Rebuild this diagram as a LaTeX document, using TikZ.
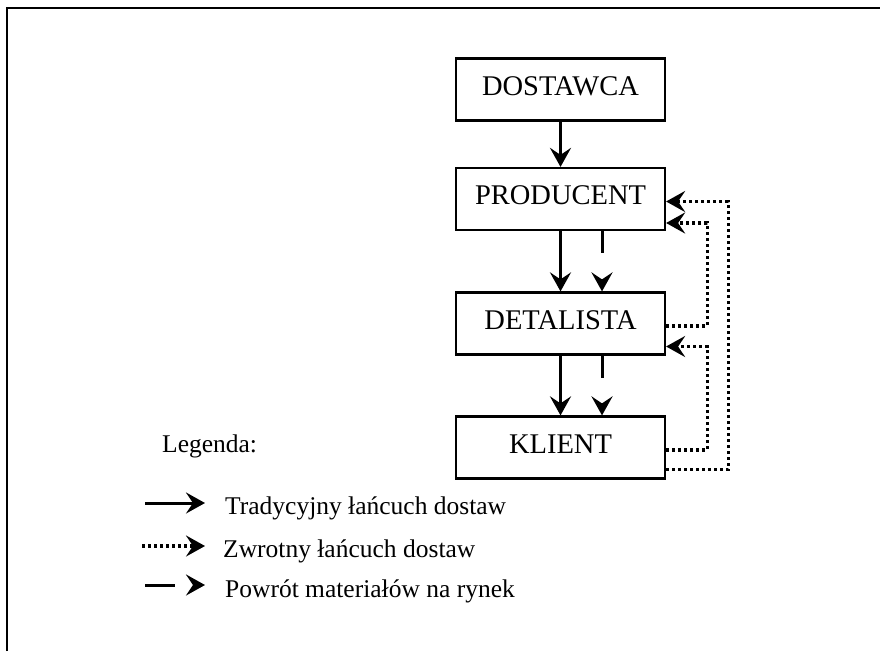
\documentclass[tikz,border=0pt]{standalone}
\usepackage{fontspec}
\setmainfont{Liberation Serif}
\usetikzlibrary{arrows.meta}
\begin{document}
\begin{tikzpicture}[x=1pt,y=-1pt,
  box/.style={draw,line width=2.2pt,minimum width=209pt,minimum height=62pt,inner sep=0pt,
    text height=19pt,text depth=8pt,font=\fontsize{28.5}{31}\selectfont},
  tip/.style={-{Stealth[length=19pt,width=21pt,inset=7pt]}},
  solidarrow/.style={tip,line width=3pt},
  dotarrow/.style={tip,line width=3.2pt,dash pattern=on 3pt off 3pt},
  retarrow/.style={tip,line width=3pt,dash pattern=on 22pt off 60pt},
  legtext/.style={anchor=base west,inner sep=0pt,font=\fontsize{25.5}{28}\selectfont}]
\useasboundingbox (0,0) rectangle (880,651);
\fill[white] (0,0) rectangle (880,651);
% frame
\draw[line width=1.5pt] (7,651) -- (7,8) -- (880,8);
% boxes
\node[box] (dost) at (560.5,89.5) {DOSTAWCA};
\node[box] (prod) at (560.5,199) {PRODUCENT};
\node[box] (det) at (560.5,323.5) {DETALISTA};
\node[box] (kli) at (560.5,447.5) {KLIENT};
% traditional chain
\draw[solidarrow] (dost.south) -- (prod.north);
\draw[solidarrow] (prod.south) -- (det.north);
\draw[solidarrow] (det.south) -- (kli.north);
% return of materials
\draw[retarrow] ([xshift=41.5pt]prod.south) -- ([xshift=41.5pt]det.north);
\draw[retarrow] ([xshift=41.5pt]det.south) -- ([xshift=41.5pt]kli.north);
% reverse chain
\draw[dotarrow] ([yshift=-22pt]kli.east) -- ++(62,0) |- ([yshift=-2.5pt]prod.east);
\draw[dotarrow] ([yshift=-2.5pt]det.east) -- ++(41,0) |- ([yshift=-24pt]prod.east);
\draw[dotarrow] ([yshift=-2.5pt]kli.east) -- ++(41,0) |- ([yshift=-23pt]det.east);
% legend
\node[legtext] (leg) at (162,452) {Legenda:};
\coordinate (l1a) at (145,503); \coordinate (l1b) at (205,503);
\coordinate (l2a) at (142,546); \coordinate (l2b) at (205,546);
\coordinate (l3a) at (145,585); \coordinate (l3b) at (205,585);
\draw[solidarrow] (l1a) -- (l1b);
\draw[dotarrow] (l2a) -- (l2b);
\draw[tip,line width=3pt,dash pattern=on 30pt off 40pt] (l3a) -- (l3b);
\node[legtext] (t1) at (225,514) {Tradycyjny łańcuch dostaw};
\node[legtext] (t2) at (223,557) {Zwrotny łańcuch dostaw};
\node[legtext] (t3) at (225,597) {Powrót materiałów na rynek};
\end{tikzpicture}
\end{document}
